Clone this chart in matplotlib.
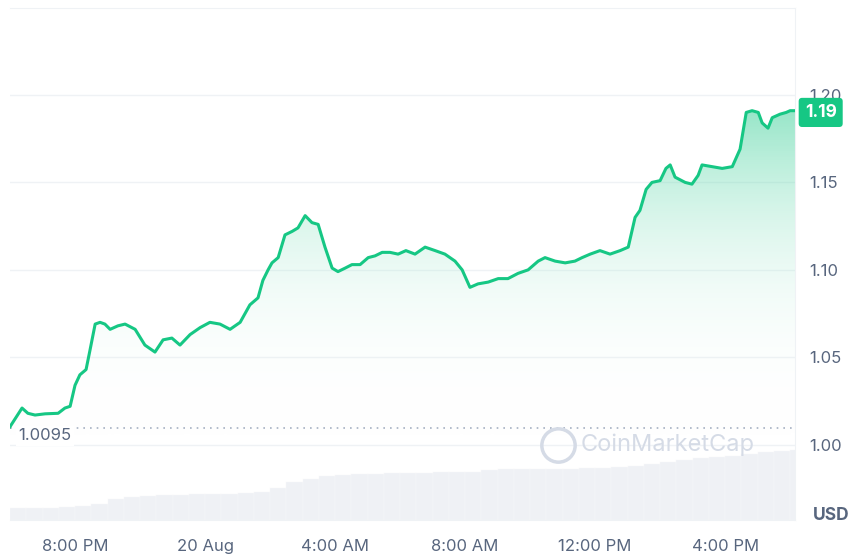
import numpy as np
import matplotlib.pyplot as plt
from matplotlib.patches import Polygon
from matplotlib.colors import LinearSegmentedColormap

plt.rcParams['font.family'] = ['Inter', 'DejaVu Sans']

# hours since 19 Aug 6:00 PM
hours = [0, 0.37, 0.55, 0.77, 1.08, 1.48, 1.69, 1.85, 2.0, 2.15, 2.34, 2.46, 2.62, 2.77, 2.92,
         3.08, 3.32, 3.54, 3.85, 4.15, 4.46, 4.71, 4.98, 5.23, 5.54, 5.85, 6.15, 6.46, 6.77,
         7.08, 7.38, 7.63, 7.78, 7.94, 8.06, 8.25, 8.46, 8.68, 8.86, 9.08, 9.29, 9.48, 9.69,
         9.91, 10.09, 10.31, 10.52, 10.77, 11.02, 11.23, 11.45, 11.69, 11.94, 12.18, 12.46,
         12.77, 13.08, 13.38, 13.69, 13.91, 14.15, 14.4, 14.71, 15.02, 15.32, 15.63, 15.94,
         16.25, 16.46, 16.77, 17.08, 17.38, 17.6, 17.85, 18.15, 18.46, 18.77, 19.02, 19.23,
         19.38, 19.57, 19.75, 20.0, 20.18, 20.31, 20.46, 20.77, 20.98, 21.17, 21.29, 21.6,
         21.91, 22.22, 22.46, 22.65, 22.83, 23.02, 23.14, 23.32, 23.45, 23.69, 23.88, 24.0, 24.15]
price = [1.0103, 1.021, 1.018, 1.017, 1.0177, 1.018, 1.021, 1.022, 1.034, 1.040, 1.043, 1.054,
         1.069, 1.070, 1.069, 1.066, 1.068, 1.069, 1.066, 1.057, 1.053, 1.060, 1.061, 1.057,
         1.063, 1.067, 1.070, 1.069, 1.066, 1.070, 1.080, 1.084, 1.094, 1.100, 1.104, 1.107,
         1.120, 1.122, 1.124, 1.131, 1.127, 1.126, 1.113, 1.101, 1.099, 1.101, 1.103, 1.103,
         1.107, 1.108, 1.110, 1.110, 1.109, 1.111, 1.109, 1.113, 1.111, 1.109, 1.105, 1.100,
         1.090, 1.092, 1.093, 1.095, 1.095, 1.098, 1.100, 1.105, 1.107, 1.105, 1.104, 1.105,
         1.107, 1.109, 1.111, 1.109, 1.111, 1.113, 1.130, 1.134, 1.146, 1.150, 1.151, 1.158,
         1.160, 1.153, 1.150, 1.149, 1.154, 1.160, 1.159, 1.158, 1.159, 1.169, 1.190, 1.191,
         1.190, 1.184, 1.181, 1.187, 1.189, 1.190, 1.191, 1.191]

vol_hours = [i * 0.5 for i in range(49)]
volume = [12, 12, 12, 13, 14, 16, 21, 23, 24, 25, 25, 26, 26, 26, 27, 28, 32, 37, 40, 43, 44, 45,
          45, 46, 46, 46, 47, 47, 47, 49, 50, 50, 50, 50, 50, 51, 51, 52, 53, 55, 57, 59, 61, 62,
          63, 65, 67, 68, 69]

tick_hours = [2, 6, 10, 14, 18, 22]
tick_labels = ['8:00 PM', '20 Aug', '4:00 AM', '8:00 AM', '12:00 PM', '4:00 PM']
yticks = [1.00, 1.05, 1.10, 1.15, 1.20]
open_price = 1.0095
last_price = 1.19

green = '#16c784'
grey = '#58667e'
ymin, ymax = 0.957, 1.2497
xmin, xmax = 0, 24.15

fig = plt.figure(figsize=(8.53, 5.56), dpi=100)
ax = fig.add_axes([10 / 853, 36 / 556, 785 / 853, 512 / 556])
ax.set_xlim(xmin, xmax)
ax.set_ylim(ymin, ymax)

# volume on twin axis
axv = ax.twinx()
axv.set_ylim(0, max(volume) * 512 / 70)
axv.bar(vol_hours, volume, width=0.5, color='#eff1f5', align='edge', zorder=0,
        edgecolor='#f7f8fa', linewidth=0.3)
axv.set_yticks([])
for s in axv.spines.values():
    s.set_visible(False)
ax.set_zorder(axv.get_zorder() + 1)
ax.patch.set_visible(False)

for y in yticks:
    ax.axhline(y, color='#eff2f5', lw=1, zorder=0)

# gradient fill under the line
grad = np.linspace(0, 1, 256).reshape(-1, 1) ** 1.3
cmap = LinearSegmentedColormap.from_list('g', [(1, 1, 1, 0), (0.086, 0.78, 0.52, 0.5)])
img = ax.imshow(grad, extent=[xmin, xmax, 1.0, 1.2], origin='lower', aspect='auto',
                cmap=cmap, zorder=1)
poly = Polygon(list(zip(hours, price)) + [(hours[-1], ymin), (hours[0], ymin)],
               closed=True, transform=ax.transData)
img.set_clip_path(poly)
ax.plot(hours, price, color=green, lw=2.2, zorder=3)

ax.axhline(open_price, color='#a6b0c3', lw=1.2, ls=(0, (1, 3)), zorder=2)
ax.text(0.25, open_price, '1.0095', ha='left', va='top', fontsize=12, color=grey,
        bbox=dict(boxstyle='square,pad=0.15', fc='white', ec='none'), zorder=4)

ax.text(xmax - 6.6, 1.0, 'CoinMarketCap', fontsize=17, color='#d5dbe6', ha='left',
        va='center', zorder=2)
ax.plot([xmax - 7.3], [1.0], marker='o', ms=24, mfc='none', mec='#d5dbe6', mew=2.5, zorder=2)

ax.spines['left'].set_visible(False)
for s in ['right', 'bottom', 'top']:
    ax.spines[s].set_color('#eff2f5')

ax.yaxis.tick_right()
ax.set_yticks(yticks)
ax.set_yticklabels(['%.2f' % y for y in yticks])
ax.set_xticks(tick_hours)
ax.set_xticklabels(tick_labels)
ax.tick_params(axis='both', length=0, labelsize=12, colors=grey)
ax.tick_params(axis='x', pad=14)
ax.tick_params(axis='y', pad=10)

ax.text(xmax + 0.3, last_price, '1.19', fontsize=12.5, color='white', fontweight='bold',
        ha='left', va='center',
        bbox=dict(boxstyle='round,pad=0.35,rounding_size=0.2', fc=green, ec='none'))
fig.text(850 / 853, 1 - 516 / 556, 'USD', fontsize=12.5, color=grey, fontweight='bold',
         ha='right', va='center')

fig.savefig('out.png', dpi=100)
